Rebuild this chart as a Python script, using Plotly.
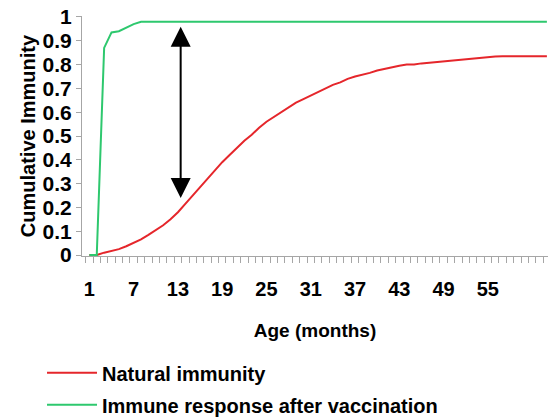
import plotly.graph_objects as go

months = list(range(1, 64))

natural_immunity = [
    0.0, 0.0, 0.01, 0.018, 0.025, 0.037, 0.05, 0.066, 0.085, 0.105,
    0.125, 0.15, 0.18, 0.215, 0.25, 0.285, 0.32, 0.355, 0.39, 0.42,
    0.45, 0.48, 0.505, 0.535, 0.56, 0.58, 0.60, 0.62, 0.64, 0.655,
    0.67, 0.685, 0.70, 0.715, 0.725, 0.74, 0.75, 0.757, 0.765, 0.775,
    0.782, 0.79, 0.795, 0.80, 0.80, 0.805, 0.808, 0.81, 0.815, 0.818,
    0.82, 0.822, 0.825, 0.828, 0.832, 0.834, 0.835, 0.835, 0.835, 0.835,
    0.835, 0.835, 0.835,
]

vaccination = [
    0.0, 0.0, 0.87, 0.935, 0.94, 0.955, 0.97, 0.98, 0.98, 0.98,
] + [0.98] * 53

x_tick_vals = [1, 7, 13, 19, 25, 31, 37, 43, 49, 55]
x_tick_text = [str(v) for v in x_tick_vals]
y_tick_vals = [0, 0.1, 0.2, 0.3, 0.4, 0.5, 0.6, 0.7, 0.8, 0.9, 1]
y_tick_text = ["0", "0.1", "0.2", "0.3", "0.4", "0.5", "0.6", "0.7", "0.8", "0.9", "1"]

arrow_month = 13.37
arrow_top = 0.965
arrow_bottom = 0.24

RED = "#e5262b"
GREEN = "#2ec86e"
AXIS = "#a6a6a6"

fig = go.Figure()
fig.add_trace(go.Scatter(
    x=months, y=natural_immunity, mode="lines", name="Natural immunity",
    line=dict(color=RED, width=2), legendgroup="a",
))
fig.add_trace(go.Scatter(
    x=months, y=vaccination, mode="lines", name="Immune response after vaccination",
    line=dict(color=GREEN, width=2), legendgroup="b",
))

fig.add_annotation(
    x=arrow_month, y=arrow_bottom, ax=arrow_month, ay=arrow_top,
    xref="x", yref="y", axref="x", ayref="y",
    showarrow=True, arrowside="end+start", arrowhead=2, startarrowhead=2,
    arrowsize=2.0, startarrowsize=2.0, arrowwidth=2, arrowcolor="black", text="",
)

fig.update_layout(
    width=549, height=418,
    margin=dict(l=82, r=1, t=16, b=162, autoexpand=False),
    paper_bgcolor="white", plot_bgcolor="white",
    font=dict(family="Liberation Sans, Arial, sans-serif", size=19, color="black", weight="bold"),
    showlegend=True,
    legend=dict(
        x=-0.0858, y=-0.405, xanchor="left", yanchor="top",
        font=dict(size=20, weight="bold"), tracegroupgap=3, itemwidth=50,
        bgcolor="rgba(0,0,0,0)",
    ),
    xaxis=dict(
        range=[0, 63.15], showgrid=False, zeroline=False, automargin=False,
        showline=True, linecolor=AXIS, linewidth=1,
        tickmode="array", tickvals=x_tick_vals, ticktext=x_tick_text,
        ticks="", ticklabelstandoff=15, tickfont=dict(size=20, weight="bold"),
        minor=dict(ticks="outside", tick0=0.5, dtick=1, ticklen=6, tickcolor=AXIS, tickwidth=1),
        title=dict(text="Age (months)", font=dict(size=19, weight="bold"), standoff=24),
    ),
    yaxis=dict(
        range=[-0.004, 1.004], showgrid=False, zeroline=False, automargin=False,
        showline=True, linecolor=AXIS, linewidth=1,
        tickmode="array", tickvals=y_tick_vals, ticktext=y_tick_text,
        ticks="outside", ticklen=5, tickcolor=AXIS, tickfont=dict(size=21, weight="bold"),
        ticklabeloverflow="allow",
        title=dict(text="Cumulative Immunity", font=dict(size=20, weight="bold"), standoff=1),
    ),
)

# remove the page's default 8px body margin so the figure fills the window
fig.write_html(
    "out.html",
    config={"displayModeBar": False},
    post_script="document.body.style.margin='0';",
)
